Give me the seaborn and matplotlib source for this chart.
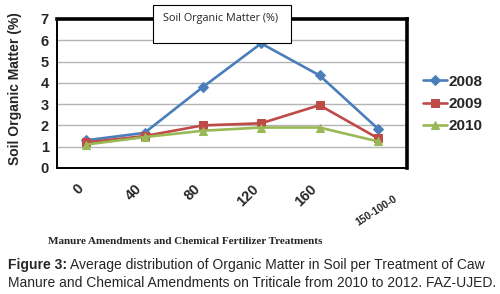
import numpy as np
import pandas as pd
import seaborn as sns
import matplotlib.pyplot as plt
import matplotlib.transforms as mtransforms
from matplotlib.patches import Rectangle

# data
treatments = ["0", "40", "80", "120", "160", "150-100-0"]
years = ["2008", "2009", "2010"]
som_2008 = [1.30, 1.65, 3.80, 5.85, 4.35, 1.85]
som_2009 = [1.20, 1.50, 2.00, 2.10, 2.95, 1.40]
som_2010 = [1.10, 1.45, 1.75, 1.90, 1.90, 1.25]

colors = ["#4A7EBB", "#BE4B48", "#98B954"]
markers = {"2008": "D", "2009": "s", "2010": "^"}

df = pd.DataFrame({
    "treatment": treatments * 3,
    "som": som_2008 + som_2009 + som_2010,
    "year": [y for y in years for _ in treatments],
})

sns.set_style("white")
plt.rcParams["font.family"] = ["Liberation Sans", "DejaVu Sans"]

fig = plt.figure(figsize=(5, 2.94), dpi=100)
ax = fig.add_axes([0.114, 0.4286, 0.700, 0.507])

sns.lineplot(data=df, x="treatment", y="som", hue="year", style="year",
             markers=markers, dashes=False, palette=colors, sort=False,
             linewidth=1.9, markersize=5.5, legend=False, ax=ax)
for ln in ax.get_lines():
    ln.set_markeredgecolor(ln.get_color())

ax.set_xlim(-0.5, 5.5)
ax.set_ylim(0, 7)
ax.set_yticks(range(8))
ax.yaxis.grid(True, color="#b4b4b4", linewidth=1.0)
ax.set_axisbelow(True)

# spines (3D-ish frame)
for s in ["top", "right"]:
    ax.spines[s].set_linewidth(2.6)
for s in ["left", "bottom"]:
    ax.spines[s].set_linewidth(1.4)
for s in ax.spines.values():
    s.set_color("black")

# ticks: marks at category boundaries, labels at categories
ax.set_xticks(np.arange(6))
ax.set_xticks(np.arange(-0.5, 6.0, 1.0), minor=True)
ax.tick_params(axis="x", which="major", length=0, pad=10)
ax.tick_params(axis="x", which="minor", length=4, color="#888888", width=0.8)
ax.tick_params(axis="y", length=4, color="#888888", width=0.8, pad=2)
ax.set_xticklabels(treatments, rotation=45, ha="right", va="top",
                   fontsize=10.5, fontweight="bold")
for t in ax.get_yticklabels():
    t.set_fontsize(10.5)
    t.set_fontweight("bold")

last = ax.get_xticklabels()[-1]
last.set_fontsize(7.5)
last.set_rotation(33)
last.set_transform(last.get_transform() +
                   mtransforms.ScaledTranslation(21 / 100, -12 / 100, fig.dpi_scale_trans))

ax.set_xlabel("")
ax.set_ylabel("Soil Organic Matter (%)", fontsize=10, fontweight="bold")
ax.yaxis.set_label_coords(-0.100, 0.53)

# legend
leg = ax.legend(ax.get_lines(), years, loc="center left",
                bbox_to_anchor=(0.818, 0.646), bbox_transform=fig.transFigure,
                frameon=False, handlelength=1.6, handletextpad=0.1,
                labelspacing=0.55, prop={"size": 11, "weight": "bold"})

# title box
fig.patches.append(Rectangle((153 / 500, 1 - 43 / 294), 138 / 500, 38 / 294,
                             transform=fig.transFigure, facecolor="white",
                             edgecolor="black", linewidth=0.8, zorder=5))
fig.text(163 / 500, 1 - 19 / 294, "Soil Organic Matter (%)", fontsize=7.8,
         family="Open Sans", va="center", ha="left", zorder=6)

# x axis title
fig.text(48 / 500, 1 - 241 / 294,
         "Manure Amendments and Chemical Fertilizer Treatments",
         family="Liberation Serif", fontweight="bold", fontsize=8,
         va="center", ha="left")

# caption
r = fig.canvas.get_renderer()
t1 = fig.text(8 / 500, 1 - 265 / 294, "Figure 3:", fontsize=10, fontweight="bold",
              va="center", ha="left")
w = t1.get_window_extent(r).width
fig.text(8 / 500 + (w + 3) / 500, 1 - 265 / 294,
         "Average distribution of Organic Matter in Soil per Treatment of Caw",
         fontsize=10, va="center", ha="left")
fig.text(8 / 500, 1 - 283 / 294,
         "Manure and Chemical Amendments on Triticale from 2010 to 2012. FAZ-UJED.",
         fontsize=10, va="center", ha="left")

fig.savefig("out.png", dpi=100)
